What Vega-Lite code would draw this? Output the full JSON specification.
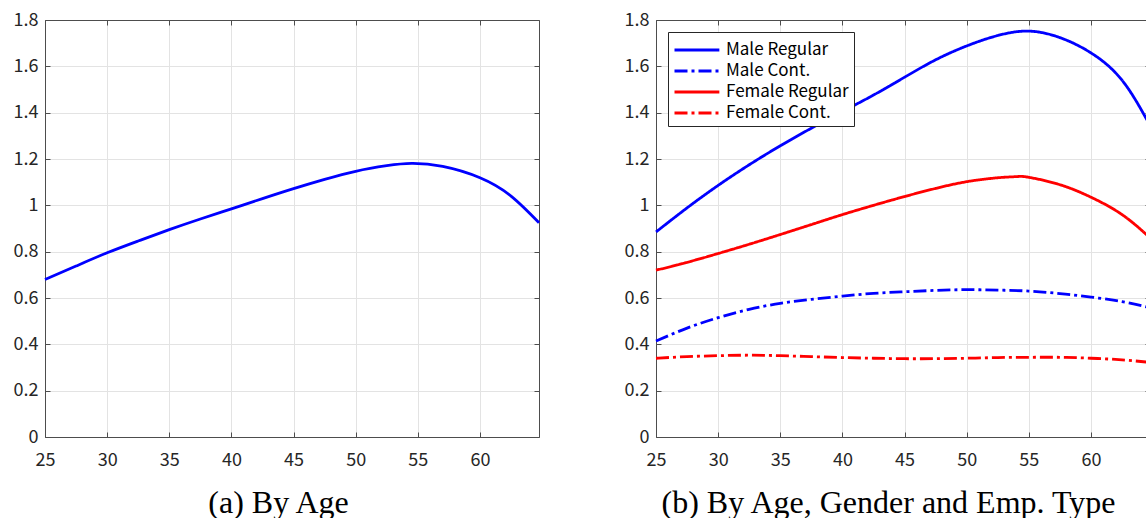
{
  "$schema": "https://vega.github.io/schema/vega-lite/v6.json",
  "background": "white",
  "padding": {"left": 13, "top": 11, "right": 0, "bottom": 0},
  "spacing": 79,
  "datasets": {
    "overall": [
      {"age": 25, "v": 0.680}, {"age": 27.5, "v": 0.738}, {"age": 30, "v": 0.795},
      {"age": 32.5, "v": 0.846}, {"age": 35, "v": 0.895}, {"age": 37.5, "v": 0.941},
      {"age": 40, "v": 0.985}, {"age": 42.5, "v": 1.029}, {"age": 45, "v": 1.072},
      {"age": 47.5, "v": 1.112}, {"age": 50, "v": 1.147}, {"age": 52.5, "v": 1.171},
      {"age": 54.5, "v": 1.181}, {"age": 57, "v": 1.168}, {"age": 60, "v": 1.119},
      {"age": 62.5, "v": 1.040}, {"age": 64.75, "v": 0.925}
    ],
    "groups": [
      {"series": "Male Regular", "age": 25, "v": 0.885}, {"series": "Male Regular", "age": 27.5, "v": 0.989},
      {"series": "Male Regular", "age": 30, "v": 1.086}, {"series": "Male Regular", "age": 32.5, "v": 1.175},
      {"series": "Male Regular", "age": 35, "v": 1.257}, {"series": "Male Regular", "age": 37.5, "v": 1.333},
      {"series": "Male Regular", "age": 40, "v": 1.405}, {"series": "Male Regular", "age": 42.5, "v": 1.476},
      {"series": "Male Regular", "age": 45, "v": 1.553}, {"series": "Male Regular", "age": 47.5, "v": 1.628},
      {"series": "Male Regular", "age": 50, "v": 1.688}, {"series": "Male Regular", "age": 52.5, "v": 1.733},
      {"series": "Male Regular", "age": 55, "v": 1.752}, {"series": "Male Regular", "age": 57.5, "v": 1.724},
      {"series": "Male Regular", "age": 60, "v": 1.658}, {"series": "Male Regular", "age": 62.5, "v": 1.540},
      {"series": "Male Regular", "age": 64.75, "v": 1.345},

      {"series": "Male Cont.", "age": 25, "v": 0.414}, {"series": "Male Cont.", "age": 27.5, "v": 0.470},
      {"series": "Male Cont.", "age": 30, "v": 0.515}, {"series": "Male Cont.", "age": 32.5, "v": 0.551},
      {"series": "Male Cont.", "age": 35, "v": 0.577}, {"series": "Male Cont.", "age": 37.5, "v": 0.594},
      {"series": "Male Cont.", "age": 40, "v": 0.608}, {"series": "Male Cont.", "age": 42.5, "v": 0.620},
      {"series": "Male Cont.", "age": 45, "v": 0.627}, {"series": "Male Cont.", "age": 47.5, "v": 0.633},
      {"series": "Male Cont.", "age": 50, "v": 0.636}, {"series": "Male Cont.", "age": 52.5, "v": 0.634},
      {"series": "Male Cont.", "age": 55, "v": 0.630}, {"series": "Male Cont.", "age": 57.5, "v": 0.619},
      {"series": "Male Cont.", "age": 60, "v": 0.604}, {"series": "Male Cont.", "age": 62.5, "v": 0.584},
      {"series": "Male Cont.", "age": 64.75, "v": 0.558},

      {"series": "Female Regular", "age": 25, "v": 0.720}, {"series": "Female Regular", "age": 27.5, "v": 0.754},
      {"series": "Female Regular", "age": 30, "v": 0.792}, {"series": "Female Regular", "age": 32.5, "v": 0.832},
      {"series": "Female Regular", "age": 35, "v": 0.874}, {"series": "Female Regular", "age": 37.5, "v": 0.917},
      {"series": "Female Regular", "age": 40, "v": 0.960}, {"series": "Female Regular", "age": 42.5, "v": 1.000},
      {"series": "Female Regular", "age": 45, "v": 1.038}, {"series": "Female Regular", "age": 47.5, "v": 1.073},
      {"series": "Female Regular", "age": 50, "v": 1.102}, {"series": "Female Regular", "age": 52.5, "v": 1.119},
      {"series": "Female Regular", "age": 54, "v": 1.124}, {"series": "Female Regular", "age": 55, "v": 1.121},
      {"series": "Female Regular", "age": 57.5, "v": 1.089}, {"series": "Female Regular", "age": 60, "v": 1.035},
      {"series": "Female Regular", "age": 62.5, "v": 0.960}, {"series": "Female Regular", "age": 64.75, "v": 0.860},

      {"series": "Female Cont.", "age": 25, "v": 0.340}, {"series": "Female Cont.", "age": 27.5, "v": 0.347},
      {"series": "Female Cont.", "age": 30, "v": 0.351}, {"series": "Female Cont.", "age": 32.5, "v": 0.353},
      {"series": "Female Cont.", "age": 35, "v": 0.351}, {"series": "Female Cont.", "age": 37.5, "v": 0.347},
      {"series": "Female Cont.", "age": 40, "v": 0.343}, {"series": "Female Cont.", "age": 42.5, "v": 0.340},
      {"series": "Female Cont.", "age": 45, "v": 0.338}, {"series": "Female Cont.", "age": 47.5, "v": 0.338},
      {"series": "Female Cont.", "age": 50, "v": 0.340}, {"series": "Female Cont.", "age": 52.5, "v": 0.343},
      {"series": "Female Cont.", "age": 55, "v": 0.344}, {"series": "Female Cont.", "age": 57.5, "v": 0.344},
      {"series": "Female Cont.", "age": 60, "v": 0.340}, {"series": "Female Cont.", "age": 62.5, "v": 0.333},
      {"series": "Female Cont.", "age": 64.75, "v": 0.322}
    ]
  },
  "hconcat": [
    {
      "width": 494,
      "height": 417,
      "data": {"name": "overall"},
      "resolve": {"axis": {"x": "independent", "y": "independent"}},
      "layer": [
        {
          "mark": {"type": "line", "color": "#0000ff", "strokeWidth": 2.8, "interpolate": "natural"},
          "encoding": {
            "x": {"field": "age", "type": "quantitative",
                  "scale": {"domain": [25, 64.75], "nice": false, "zero": false},
                  "axis": {"orient": "bottom", "values": [25, 30, 35, 40, 45, 50, 55, 60], "format": "d",
                           "labelPadding": 19,
                           "grid": true, "title": "(a) By Age", "titleX": 233, "titleY": 75}},
            "y": {"field": "v", "type": "quantitative",
                  "scale": {"domain": [0, 1.8], "nice": false},
                  "axis": {"orient": "left", "values": [0, 0.2, 0.4, 0.6, 0.8, 1, 1.2, 1.4, 1.6, 1.8], "format": "~g",
                           "grid": true, "title": null}}
          }
        },
        {
          "mark": {"type": "line", "opacity": 0},
          "encoding": {
            "x": {"field": "age", "type": "quantitative",
                  "axis": {"orient": "top", "values": [25, 30, 35, 40, 45, 50, 55, 60], "labels": false, "grid": false, "title": null}},
            "y": {"field": "v", "type": "quantitative",
                  "axis": {"orient": "right", "values": [0, 0.2, 0.4, 0.6, 0.8, 1, 1.2, 1.4, 1.6, 1.8], "labels": false, "grid": false, "title": null}}
          }
        }
      ]
    },
    {
      "width": 494,
      "height": 417,
      "data": {"name": "groups"},
      "resolve": {"axis": {"x": "independent", "y": "independent"}},
      "layer": [
        {
          "mark": {"type": "line", "strokeWidth": 2.8, "interpolate": "natural", "strokeCap": "butt"},
          "encoding": {
            "x": {"field": "age", "type": "quantitative",
                  "scale": {"domain": [25, 64.75], "nice": false, "zero": false},
                  "axis": {"orient": "bottom", "values": [25, 30, 35, 40, 45, 50, 55, 60], "format": "d",
                           "labelPadding": 19,
                           "grid": true, "title": "(b) By Age, Gender and Emp. Type", "titleX": 232, "titleY": 75}},
            "y": {"field": "v", "type": "quantitative",
                  "scale": {"domain": [0, 1.8], "nice": false},
                  "axis": {"orient": "left", "values": [0, 0.2, 0.4, 0.6, 0.8, 1, 1.2, 1.4, 1.6, 1.8], "format": "~g",
                           "grid": true, "title": null}},
            "color": {"field": "series", "type": "nominal",
                      "scale": {"domain": ["Male Regular", "Male Cont.", "Female Regular", "Female Cont."],
                                "range": ["#0000ff", "#0000ff", "#ff0000", "#ff0000"]},
                      "legend": {"title": null}},
            "strokeDash": {"field": "series", "type": "nominal",
                           "scale": {"domain": ["Male Regular", "Male Cont.", "Female Regular", "Female Cont."],
                                     "range": [[1, 0], [13, 4, 3, 4], [1, 0], [13, 4, 3, 4]]},
                           "legend": {"title": null}}
          }
        },
        {
          "mark": {"type": "line", "opacity": 0},
          "encoding": {
            "x": {"field": "age", "type": "quantitative",
                  "axis": {"orient": "top", "values": [25, 30, 35, 40, 45, 50, 55, 60], "labels": false, "grid": false, "title": null}},
            "y": {"field": "v", "type": "quantitative",
                  "axis": {"orient": "right", "values": [0, 0.2, 0.4, 0.6, 0.8, 1, 1.2, 1.4, 1.6, 1.8], "labels": false, "grid": false, "title": null}},
            "detail": {"field": "series"}
          }
        }
      ]
    }
  ],
  "config": {
    "view": {"stroke": null},
    "axis": {
      "domainColor": "#4d4d4d",
      "domainWidth": 1,
      "tickColor": "#4d4d4d",
      "tickSize": -5,
      "tickWidth": 1,
      "gridColor": "#e3e3e3",
      "gridWidth": 1,
      "labelFont": "Noto Sans CJK JP",
      "labelFontSize": 18,
      "labelColor": "#262626",
      "labelPadding": 12,
      "labelFlush": false,
      "labelOverlap": false,
      "titleFont": "Liberation Serif",
      "titleFontSize": 32,
      "titleFontWeight": "normal",
      "titleColor": "#000000",
      "titleAlign": "center",
      "titleBaseline": "alphabetic",
      "titleAngle": 0
    },
    "legend": {
      "orient": "none",
      "legendX": 623,
      "legendY": 12,
      "strokeColor": "#262626",
      "fillColor": "#ffffff",
      "padding": 5,
      "symbolType": "M-1,0H2.9",
      "symbolSize": 529,
      "symbolStrokeWidth": 2.8,
      "labelFont": "Noto Sans CJK JP",
      "labelFontSize": 17,
      "labelColor": "#000000",
      "labelOffset": 27,
      "rowPadding": 0,
      "labelLimit": 300
    }
  }
}
